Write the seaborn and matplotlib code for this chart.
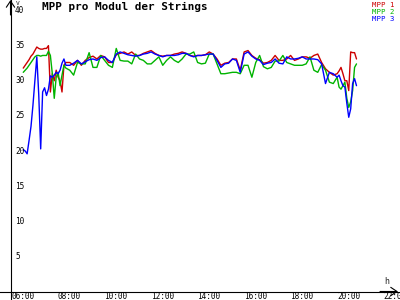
import numpy as np
import pandas as pd
import matplotlib
matplotlib.use("Agg")
import matplotlib.pyplot as plt
import seaborn as sns

# ---------------- data ----------------
title = "MPP pro Modul der Strings"
series_names = ["MPP 1", "MPP 2", "MPP 3"]
series_colors = ["#cc0000", "#00b400", "#0000ff"]

# sample times (5-min steps early/late, 10-min steps midday)
times_early = pd.date_range("2020-01-01 06:20", "2020-01-01 08:10", freq="5min")
times_mid = pd.date_range("2020-01-01 08:20", "2020-01-01 19:40", freq="10min")
times_late = pd.date_range("2020-01-01 19:50", "2020-01-01 20:40", freq="5min")

mpp1 = [
    31.8, 32.2, 32.6, 33.0, 33.5, 33.8, 34.3, 34.8, 34.6, 34.5, 34.5, 34.6,
    34.6, 35.0, 28.4, 31.0, 30.0, 31.5, 30.5, 30.0, 28.4, 32.2, 32.6,
    32.6, 32.2, 32.9, 32.2, 32.9, 33.3, 33.5, 33.1, 33.6, 33.4,
    32.6, 32.6, 33.7, 33.9, 34.1, 33.8, 34.1, 33.6, 33.6, 33.9,
    34.1, 34.3, 33.9, 33.6, 33.5, 33.6, 33.6, 33.8, 33.9, 34.1,
    33.9, 33.6, 33.5, 33.6, 33.6, 33.7, 34.1, 33.8, 33.1, 32.2,
    32.5, 32.6, 33.1, 33.1, 31.5, 34.1, 34.3, 33.6, 33.2, 33.0,
    32.5, 32.6, 32.9, 33.6, 32.9, 32.9, 33.1, 33.6, 32.9, 33.1,
    33.4, 33.4, 33.2, 33.6, 33.8, 32.6, 31.7, 31.2, 30.8,
    31.0, 31.4, 31.9, 31.0, 30.0, 30.0, 28.6, 34.1, 34.0, 34.0, 33.1,
]
mpp2 = [
    31.2, 31.5, 31.8, 32.2, 32.6, 33.0, 33.4, 33.6, 33.6, 33.5, 33.6, 33.6,
    33.6, 34.2, 33.6, 31.0, 27.5, 30.5, 31.2, 29.3, 30.8, 32.2, 31.8,
    31.5, 30.8, 32.6, 32.4, 32.4, 34.0, 31.9, 31.9, 33.6, 32.9,
    32.2, 31.9, 34.6, 32.9, 32.8, 32.8, 32.4, 33.8, 33.1, 32.9,
    32.4, 32.4, 32.9, 33.4, 32.2, 32.9, 33.4, 32.9, 32.6, 33.1,
    33.8, 33.8, 34.1, 32.6, 32.4, 32.5, 33.8, 33.8, 32.4, 31.0,
    31.0, 31.1, 31.2, 31.2, 31.0, 32.2, 32.2, 30.5, 32.6, 33.6,
    32.0, 31.7, 31.9, 32.8, 32.8, 33.6, 32.6, 32.4, 32.2, 32.2,
    32.2, 32.4, 33.4, 31.5, 31.2, 32.3, 31.5, 29.8, 29.6,
    30.5, 29.1, 28.8, 29.3, 29.8, 27.5, 26.2, 27.0, 28.6, 31.9, 32.4,
]
mpp3 = [
    20.2, 20.0, 19.6, 21.5, 23.5, 26.5, 30.0, 33.4, 28.0, 20.3, 28.4, 29.0,
    27.9, 28.8, 30.7, 30.5, 30.8, 31.2, 31.0, 31.5, 32.5, 33.1, 32.2,
    32.2, 32.5, 32.9, 32.4, 32.7, 33.0, 33.1, 32.9, 33.3, 33.4,
    32.9, 32.6, 33.8, 34.1, 33.9, 33.7, 33.6, 33.5, 33.6, 33.8,
    33.9, 34.1, 33.8, 33.6, 33.4, 33.6, 33.6, 33.6, 33.7, 33.9,
    33.9, 33.6, 33.4, 33.6, 33.6, 33.7, 33.8, 33.8, 32.9, 31.9,
    32.4, 32.5, 33.1, 32.9, 31.2, 33.8, 34.1, 33.5, 33.1, 32.9,
    32.3, 32.5, 32.6, 33.1, 32.5, 32.4, 33.4, 33.1, 33.1, 33.2,
    33.4, 33.1, 33.1, 33.1, 33.0, 32.4, 29.6, 31.2, 31.0,
    30.5, 30.8, 30.0, 29.3, 29.1, 26.8, 24.8, 26.0, 29.6, 30.3, 29.3,
]

x_ticks = [6, 8, 10, 12, 14, 16, 18, 20, 22]
x_tick_labels = ["06:00", "08:00", "10:00", "12:00", "14:00", "16:00", "18:00", "20:00", "22:00"]
y_ticks = [5, 10, 15, 20, 25, 30, 35, 40]
y_tick_labels = ["5", "10", "15", "20", "25", "30", "35", "40"]

# ---------------- build frame ----------------
times = times_early.append(times_mid).append(times_late)
hours = times.hour + times.minute / 60.0
frames = []
for name, vals in zip(series_names, [mpp1, mpp2, mpp3]):
    assert len(vals) == len(hours), (name, len(vals), len(hours))
    frames.append(pd.DataFrame({"hour": hours, "value": vals, "series": name}))
df = pd.concat(frames, ignore_index=True)

# ---------------- plot ----------------
sns.set_style("white")
plt.rcParams["font.family"] = ["DejaVu Sans Mono", "DejaVu Sans"]

fig = plt.figure(figsize=(4, 3), dpi=100)
ax = fig.add_axes([0, 0, 1, 1])

px_per_h = 23.25
px_per_v = 281 / 40.0
ax.set_xlim(6 - 15.5 / px_per_h, 6 + (400 - 15.5) / px_per_h)
ax.set_ylim(-8.5 / px_per_v, (300 - 8.5) / px_per_v)
yaxis_x = 6 - 5.0 / px_per_h

sns.lineplot(data=df, x="hour", y="value", hue="series",
             palette=dict(zip(series_names, series_colors)),
             hue_order=series_names, estimator=None, errorbar=None,
             legend=False, linewidth=1.0, ax=ax)

# axes as crossing lines
for s in ["top", "right"]:
    ax.spines[s].set_visible(False)
ax.spines["left"].set_position(("data", yaxis_x))
ax.spines["bottom"].set_position(("data", 0))
for s in ["left", "bottom"]:
    ax.spines[s].set_linewidth(0.8)
    ax.spines[s].set_color("black")

ax.set_xticks(x_ticks)
ax.set_yticks(y_ticks)
ax.set_xticklabels([])
ax.set_yticklabels([])
ax.tick_params(axis="both", direction="inout", length=5, width=0.8, color="black")
ax.set_xlabel("")
ax.set_ylabel("")
ax.grid(False)

for t, lab in zip(x_ticks, x_tick_labels):
    ax.annotate(lab, xy=(t, 0), xytext=(-4, -7.5), textcoords="offset pixels",
                ha="left", va="baseline", fontsize=5.6, color="black",
                annotation_clip=False)
for v, lab in zip(y_ticks, y_tick_labels):
    ax.annotate(lab, xy=(yaxis_x, v), xytext=(4.5, 0), textcoords="offset pixels",
                ha="left", va="center", fontsize=5.6, color="black")

# arrow heads
ax.annotate("", xy=(yaxis_x, 1.0), xycoords=("data", "axes fraction"),
            xytext=(yaxis_x, 0.95), textcoords=("data", "axes fraction"),
            arrowprops=dict(arrowstyle="->,head_length=0.45,head_width=0.3",
                            lw=0.8, color="black", shrinkA=0, shrinkB=0))
ax.annotate("", xy=(0.995, 0), xycoords=("axes fraction", "data"),
            xytext=(0.95, 0), textcoords=("axes fraction", "data"),
            arrowprops=dict(arrowstyle="->,head_length=0.45,head_width=0.3",
                            lw=0.8, color="black", shrinkA=0, shrinkB=0))

# unit labels
fig.text(18 / 400, 1 - 3.5 / 300, "V", fontsize=4.5, ha="center", va="center")
fig.text(387 / 400, 1 - 281 / 300, "h", fontsize=6, ha="center", va="center")

# title
fig.text(42 / 400, 1 - 7 / 300, title, fontsize=7.9, fontweight="bold",
         ha="left", va="center", color="black")

# legend
for i, (name, col) in enumerate(zip(series_names, series_colors)):
    fig.text(395 / 400, 1 - (4.6 + 7.3 * i) / 300, name, fontsize=5.3,
             ha="right", va="center", color=col)

fig.savefig("out.png", dpi=100, facecolor="white")
